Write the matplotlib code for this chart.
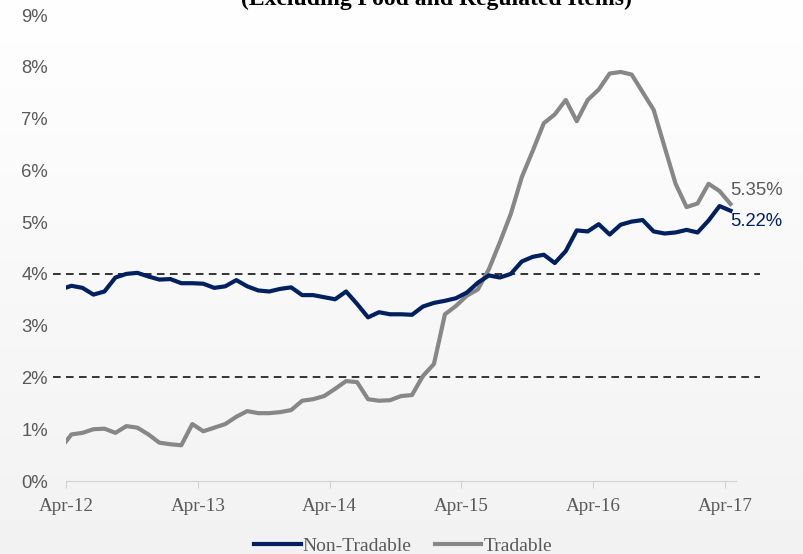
import numpy as np
import matplotlib
matplotlib.use('Agg')
import matplotlib.pyplot as plt

# y/y inflation (%), monthly Mar-12 .. Apr-17
non_tradable = [3.70, 3.77, 3.73, 3.60, 3.66, 3.93, 4.00, 4.02, 3.95, 3.89, 3.90, 3.82, 3.82,
                3.81, 3.73, 3.76, 3.88, 3.76, 3.68, 3.66, 3.71, 3.74, 3.59, 3.59, 3.55,
                3.51, 3.66, 3.42, 3.16, 3.26, 3.22, 3.22, 3.21, 3.37, 3.44, 3.48, 3.53,
                3.64, 3.83, 3.97, 3.93, 4.00, 4.24, 4.33, 4.37, 4.21, 4.44, 4.84, 4.82,
                4.96, 4.76, 4.95, 5.01, 5.04, 4.82, 4.78, 4.80, 4.85, 4.80, 5.03, 5.31,
                5.22]
tradable = [0.63, 0.90, 0.93, 1.00, 1.01, 0.93, 1.06, 1.03, 0.90, 0.74, 0.71, 0.69, 1.10,
            0.96, 1.03, 1.10, 1.24, 1.35, 1.31, 1.31, 1.33, 1.37, 1.55, 1.58, 1.64,
            1.78, 1.93, 1.91, 1.58, 1.55, 1.56, 1.64, 1.66, 2.03, 2.26, 3.22, 3.38,
            3.58, 3.70, 4.09, 4.61, 5.16, 5.87, 6.38, 6.91, 7.08, 7.36, 6.95, 7.36,
            7.56, 7.87, 7.90, 7.85, 7.51, 7.17, 6.45, 5.74, 5.29, 5.36, 5.74, 5.60,
            5.35]
tick_labels = ['Apr-12', 'Apr-13', 'Apr-14', 'Apr-15', 'Apr-16', 'Apr-17']
target_band = [2, 4]

NAVY = '#002060'
GREY = '#878787'
TXT = '#595959'
SANS = 'Liberation Sans'
SERIF = 'Liberation Serif'

# months since Apr-12, points sit mid-month (first one is Mar-12)
x = np.arange(len(non_tradable)) - 0.5
ticks = np.arange(len(tick_labels)) * 12

fig = plt.figure(figsize=(8.04, 5.54), dpi=100)

# faint vertical gradient behind everything
bg = fig.add_axes([0, 0, 1, 1], zorder=-10)
grad = np.linspace(1.0, 0.95, 256).reshape(-1, 1)
bg.imshow(np.dstack([grad, grad, grad]), aspect='auto', extent=[0, 1, 0, 1])
bg.axis('off')

ax = fig.add_axes([66 / 804, 73 / 554, 670 / 804, 466 / 554])
ax.patch.set_alpha(0)

for lvl in target_band:
    ax.plot([-1.2, 63.2], [lvl, lvl], color='black', lw=1.1, ls=(0, (5, 3.5)), clip_on=False, zorder=1)

ax.plot(x, non_tradable, color=NAVY, lw=3, label='Non-Tradable', zorder=3)
ax.plot(x, tradable, color=GREY, lw=3, label='Tradable', zorder=2)

ax.annotate('%.2f%%' % tradable[-1], (x[-1], tradable[-1]), xytext=(0, 9.5), textcoords='offset points',
            va='center', ha='left', color=TXT, fontsize=13.3, family=SANS)
ax.annotate('%.2f%%' % non_tradable[-1], (x[-1], non_tradable[-1]), xytext=(0, -7.5), textcoords='offset points',
            va='center', ha='left', color=NAVY, fontsize=13.3, family=SANS)

ax.set_xlim(0, 61)
ax.set_ylim(0, 9)
ax.set_yticks(range(0, 10))
ax.set_yticklabels(['%d%%' % v for v in range(0, 10)], family=SANS, fontsize=13.3, color=TXT)
ax.set_xticks(ticks)
ax.set_xticklabels(tick_labels, family=SERIF, fontsize=13.8, color=TXT)
ax.tick_params(axis='y', length=0, pad=13)
ax.tick_params(axis='x', length=5, color='#d0d0d0', pad=7)
for s in ['top', 'right', 'left']:
    ax.spines[s].set_visible(False)
ax.spines['bottom'].set_color('#d0d0d0')

# title sits mostly above the crop, as in the source image
fig.text(436 / 804, 1 - 5.5 / 554, '(Excluding Food and Regulated Items)', ha='center', va='baseline',
         family=SERIF, fontweight='bold', fontsize=17)

leg = fig.legend(loc='center', bbox_to_anchor=(403 / 804, 1 - 546 / 554), ncol=2, frameon=False,
                 prop={'family': SERIF, 'size': 14}, handlelength=2.4, handletextpad=0.1,
                 columnspacing=1.2)
for t in leg.get_texts():
    t.set_color(TXT)

fig.savefig('out.png', dpi=100)
